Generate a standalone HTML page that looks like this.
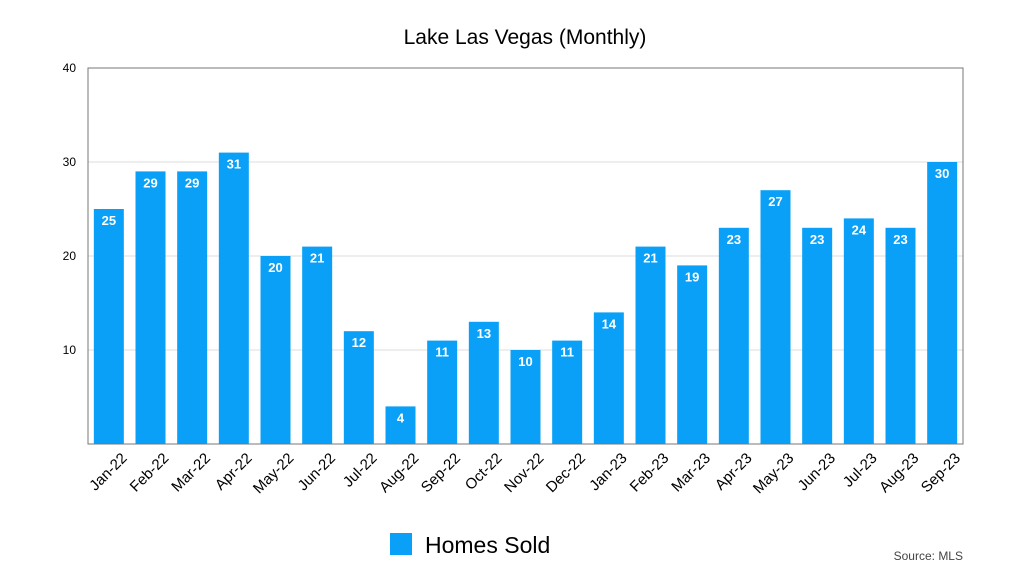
<!DOCTYPE html>
<html><head><meta charset="utf-8"><style>
body{margin:0;background:#fff;}
svg text{font-family:"Liberation Sans",Arial,sans-serif;}
</style></head><body>
<svg width="1024" height="576">
<text x="525" y="44" text-anchor="middle" font-size="21">Lake Las Vegas (Monthly)</text>
<g id="grid"></g>
<g id="bars"></g>
<g id="xlabels"></g>
<rect x="88" y="68" width="875" height="376" fill="none" stroke="#777" stroke-width="1"/>
<rect x="390" y="533" width="22" height="22" fill="#0aa0f7"/>
<text x="425" y="553" font-size="23">Homes Sold</text>
<text x="963" y="560" text-anchor="end" font-size="12" fill="#444">Source: MLS</text>
</svg>
<script>
const categories=["Jan-22","Feb-22","Mar-22","Apr-22","May-22","Jun-22","Jul-22","Aug-22","Sep-22","Oct-22","Nov-22","Dec-22","Jan-23","Feb-23","Mar-23","Apr-23","May-23","Jun-23","Jul-23","Aug-23","Sep-23"];
const homesSold=[25,29,29,31,20,21,12,4,11,13,10,11,14,21,19,23,27,23,24,23,30];
const yTicks=[10,20,30,40];
const NS="http://www.w3.org/2000/svg";
const L=88,R=963,T=68,B=444,yMax=40;
const y=v=>B-(B-T)*v/yMax;
const band=(R-L)/categories.length;
const xc=i=>L+band*(i+0.5);
function mk(tag,attrs,parent){const e=document.createElementNS(NS,tag);for(const k in attrs)e.setAttribute(k,attrs[k]);document.getElementById(parent).appendChild(e);return e;}
yTicks.forEach(t=>{
  const l=mk('line',{x1:L,x2:R,y1:y(t),y2:y(t),stroke:'#ddd'},'grid');
  
  
  const tx=mk('text',{x:L-12,y:y(t)+4,'text-anchor':'end','font-size':12},'grid');
  tx.textContent=t;
  
  
});
const bw=30;
homesSold.forEach((v,i)=>{
  const r=mk('rect',{x:xc(i)-bw/2,y:y(v),width:bw,height:B-y(v),fill:'#0aa0f7'},'bars');
  
  
  const t=mk('text',{x:xc(i),y:y(v)+16,'text-anchor':'middle','font-size':13,fill:'#fff','font-weight':'bold'},'bars');
  t.textContent=v;
  
  
  const ax=xc(i)+19, ay=B+15;
  const xl=mk('text',{x:ax,y:ay,'text-anchor':'end','font-size':15,transform:`rotate(-45 ${ax} ${ay})`},'xlabels');
  xl.textContent=categories[i];
  
  
});
</script>
</body></html>
